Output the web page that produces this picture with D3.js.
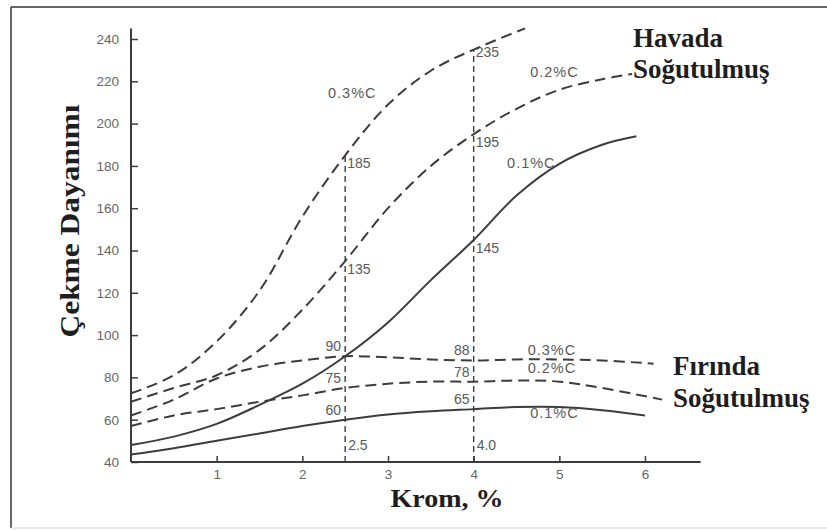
<!DOCTYPE html>
<html>
<head>
<meta charset="utf-8">
<script src="https://cdn.jsdelivr.net/npm/d3@7"></script>
<style>
  html, body { margin: 0; padding: 0; background: #fff; }
  svg { display: block; }
</style>
</head>
<body>
<svg id="chart" width="827" height="530"></svg>
<script>
// Tensile strength vs. chromium content, air-cooled and furnace-cooled steels
const yTicks = [40, 60, 80, 100, 120, 140, 160, 180, 200, 220, 240];
const xTicks = [1, 2, 3, 4, 5, 6];

// Air cooled (Havada Soğutulmuş)
const air03X = [0, 0.5, 1, 1.5, 2, 2.5, 3, 3.5, 4, 4.6];
const air03Y = [72.5, 81, 97, 121, 156, 185, 209, 225, 235, 245];
const air02X = [0, 0.5, 1, 1.5, 2, 2.5, 3, 3.5, 4, 4.5, 5, 5.5, 5.85];
const air02Y = [68.5, 75, 81, 93, 112, 135, 160, 180, 195, 207, 216, 221, 223.5];
const air01X = [0, 0.5, 1, 1.5, 2, 2.5, 3, 3.5, 4, 4.5, 5, 5.5, 5.9];
const air01Y = [48, 52, 58, 67, 77, 90, 106, 126, 145, 166, 181, 190, 194];

// Furnace cooled (Fırında Soğutulmuş)
const fur03X = [0, 0.5, 1, 1.5, 2, 2.5, 3, 3.5, 4, 4.5, 5, 5.5, 6.1];
const fur03Y = [62, 69.5, 79.5, 85, 88, 90, 89.5, 88.5, 88, 88.5, 88.5, 88, 86.5];
const fur02X = [0, 0.5, 1, 1.5, 2, 2.5, 3, 3.5, 4, 4.5, 5, 5.5, 6.2];
const fur02Y = [57, 62, 65, 68.5, 71.5, 75, 77, 78, 78, 78.5, 78, 75, 69.5];
const fur01X = [0, 0.5, 1, 1.5, 2, 2.5, 3, 3.5, 4, 4.5, 5, 5.5, 6];
const fur01Y = [43.5, 46.5, 50, 53.5, 57, 60, 62.5, 64, 65, 66, 66, 64.5, 62];

// Chromium contents marked with vertical reference lines
const guideX = [2.5, 4];
const guideText = ["2.5", "4.0"];

const series = [
  { name: "0.3%C", group: "air", xs: air03X, ys: air03Y, dashed: true },
  { name: "0.2%C", group: "air", xs: air02X, ys: air02Y, dashed: true },
  { name: "0.1%C", group: "air", xs: air01X, ys: air01Y, dashed: false },
  { name: "0.3%C", group: "furnace", xs: fur03X, ys: fur03Y, dashed: true },
  { name: "0.2%C", group: "furnace", xs: fur02X, ys: fur02Y, dashed: true },
  { name: "0.1%C", group: "furnace", xs: fur01X, ys: fur01Y, dashed: false }
];

// curve name placement (data units: left edge x, vertical centre y)
const nameAnchor = [[2.30, 214.5], [4.66, 224.4], [4.39, 181.4], [4.63, 93], [4.63, 84.4], [4.66, 63.2]];

const svg = d3.select("#chart");
const ink = "#3c3c3c";
const grey = "#5a5a5a";
const sans = "Liberation Sans, Arial, sans-serif";

// frame
svg.append("line").attr("x1", 11).attr("y1", 7).attr("x2", 827).attr("y2", 7)
  .attr("stroke", "#333").attr("stroke-width", 1.5);
svg.append("line").attr("x1", 11).attr("y1", 7).attr("x2", 11).attr("y2", 528)
  .attr("stroke", "#333").attr("stroke-width", 1.5);
svg.append("line").attr("x1", 11).attr("y1", 528).attr("x2", 827).attr("y2", 528)
  .attr("stroke", "#d0d0d0").attr("stroke-width", 1);

const x = d3.scaleLinear().domain([0, 6]).range([131, 645]);
const y = d3.scaleLinear().domain([40, 240]).range([462, 39]);

// axes
const gy = svg.append("g").attr("transform", `translate(${x(0)},0)`)
  .call(d3.axisLeft(y).tickValues(yTicks).tickFormat(d3.format("d"))
    .tickSizeInner(-7).tickSizeOuter(0).tickPadding(12));
gy.select(".domain").remove();
const gx = svg.append("g").attr("transform", `translate(0,${y(40)})`)
  .call(d3.axisBottom(x).tickValues(xTicks).tickFormat(d3.format("d"))
    .tickSizeInner(-6).tickSizeOuter(0).tickPadding(7));
gx.select(".domain").remove();
[gx, gy].forEach(g => {
  g.selectAll(".tick line").attr("stroke", ink).attr("stroke-width", 1.5);
  g.selectAll(".tick text").attr("fill", "#666").attr("font-family", sans).attr("font-size", 13.5);
});
svg.append("line").attr("x1", x(0)).attr("x2", x(0)).attr("y1", y(40)).attr("y2", y(245))
  .attr("stroke", ink).attr("stroke-width", 2);
svg.append("line").attr("x1", x(0)).attr("x2", x(6.65)).attr("y1", y(40)).attr("y2", y(40))
  .attr("stroke", ink).attr("stroke-width", 2);

// vertical guides up to the highest curve at that chromium content
const valueAt = (s, cx) => s.ys[s.xs.indexOf(cx)];
guideX.forEach((gxv, gi) => {
  const top = d3.max(series, s => valueAt(s, gxv));
  svg.append("line").attr("x1", x(gxv)).attr("x2", x(gxv)).attr("y1", y(40)).attr("y2", y(top))
    .attr("stroke", ink).attr("stroke-width", 1.4).attr("stroke-dasharray", "6,4");
  svg.append("text").attr("x", x(gxv) + 3).attr("y", y(40) - 17).attr("dy", "0.35em")
    .attr("fill", grey).attr("font-family", sans).attr("font-size", 14)
    .text(guideText[gi]);
  // value readouts where the guide crosses each curve (one label per distinct value)
  const seen = new Set();
  series.slice().sort((a, b) => (a.group === "furnace" ? -1 : 1) - (b.group === "furnace" ? -1 : 1))
    .forEach(s => {
      const v = valueAt(s, gxv);
      if (seen.has(v)) return;
      seen.add(v);
      const isAir = s.group === "air";
      svg.append("text")
        .attr("x", isAir ? x(gxv) + 2 : x(gxv) - 4)
        .attr("y", isAir ? y(v) + (v > 230 ? 3 : 8) : y(v) - 10)
        .attr("dy", "0.35em")
        .attr("text-anchor", isAir ? "start" : "end")
        .attr("fill", grey).attr("font-family", sans).attr("font-size", 14)
        .text(d3.format("d")(v));
    });
});

// curves
const line = d3.line().x(d => x(d[0])).y(d => y(d[1])).curve(d3.curveCatmullRom.alpha(0.5));
series.forEach((s, i) => {
  const pts = s.xs.map((v, k) => [v, s.ys[k]]);
  svg.append("path").attr("d", line(pts)).attr("fill", "none")
    .attr("stroke", ink).attr("stroke-width", 2)
    .attr("stroke-dasharray", s.dashed ? "11,6" : null);
  const a = nameAnchor[i];
  svg.append("text").attr("x", x(a[0])).attr("y", y(a[1])).attr("dy", "0.35em")
    .attr("fill", grey).attr("font-family", sans).attr("font-size", 14.5)
    .attr("letter-spacing", 1)
    .text(s.name);
});

// group captions and axis titles
const serif = "Liberation Serif, Times New Roman, serif";
const caption = (txt, px, py) => svg.append("text").attr("x", px).attr("y", py)
  .attr("font-family", serif).attr("font-weight", "bold").attr("font-size", 27).attr("fill", "#1e1e1e").text(txt);
caption("Havada", 633, 47);
caption("Soğutulmuş", 633, 78);
caption("Fırında", 673, 375);
caption("Soğutulmuş", 673, 407);

svg.append("text").attr("x", 447).attr("y", 507).attr("text-anchor", "middle")
  .attr("font-family", serif).attr("font-weight", "bold").attr("font-size", 26).attr("fill", "#1e1e1e")
  .attr("textLength", 113).attr("lengthAdjust", "spacingAndGlyphs")
  .text("Krom, %");
svg.append("text").attr("transform", "translate(79,221) rotate(-90)").attr("text-anchor", "middle")
  .attr("font-family", serif).attr("font-weight", "bold").attr("font-size", 27).attr("fill", "#1e1e1e")
  .attr("textLength", 233).attr("lengthAdjust", "spacingAndGlyphs")
  .text("Çekme Dayanımı");
</script>
</body>
</html>
